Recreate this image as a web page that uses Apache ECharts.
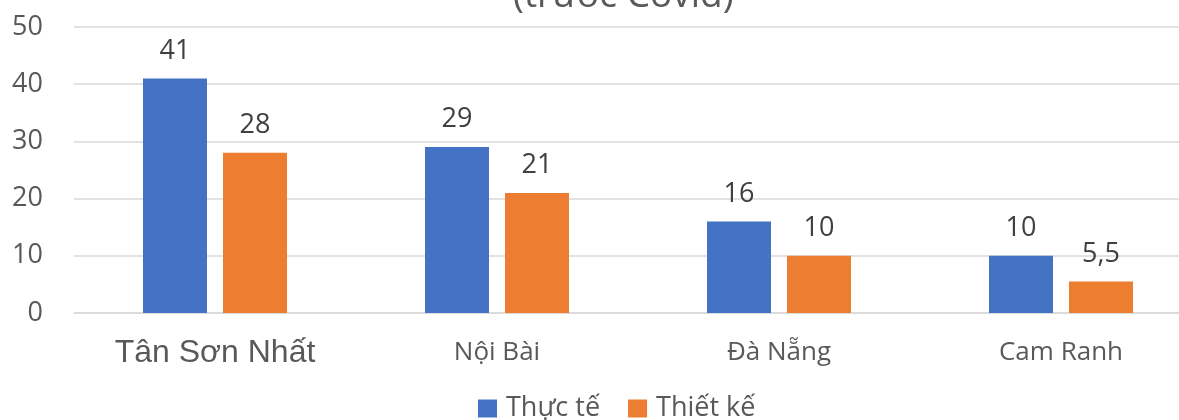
<!DOCTYPE html>
<html>
<head>
<meta charset="utf-8">
<script src="https://cdn.jsdelivr.net/npm/echarts@6/dist/echarts.min.js"></script>
<style>
html,body{margin:0;padding:0;background:#fff;overflow:hidden;}
#c{width:1202px;height:420px;}
</style>
</head>
<body>
<div id="c"></div>
<script>
var categories = ['Tân Sơn Nhất', 'Nội Bài', 'Đà Nẵng', 'Cam Ranh'];
var actual = [41, 29, 16, 10];
var design = [28, 21, 10, 5.5];
var seriesNames = ['Thực tế', 'Thiết kế'];
var titleText = '(trước Covid)';

var chart = echarts.init(document.getElementById('c'));
var fmt = function (p) { return String(p.value).replace('.', ','); };
var labelStyle = {
  show: true, position: 'top', distance: 14,
  fontFamily: 'Open Sans', fontSize: 27, color: '#404040', formatter: fmt
};
chart.setOption({
  animation: false,
  graphic: [{
    type: 'text', left: 513, top: -22,
    style: { text: titleText, fontFamily: 'Open Sans', fontSize: 37, fill: '#595959' }
  }],
  legend: {
    bottom: -7, left: 473, itemWidth: 19, itemHeight: 18, itemGap: 28,
    icon: 'rect',
    textStyle: { fontFamily: 'Open Sans', fontSize: 27, color: '#595959', padding: [0, 0, 0, 4] },
    data: seriesNames
  },
  grid: { left: 74, right: 0, top: 27, height: 286, containLabel: false },
  xAxis: {
    type: 'category', data: categories,
    axisLine: { lineStyle: { color: '#D9D9D9', width: 1.5 } },
    axisTick: { show: false },
    axisLabel: {
      margin: 22, color: '#595959', fontFamily: 'Open Sans', fontSize: 26,
      formatter: function (v, i) { return i === 0 ? '{a|' + v + '}' : '{b|' + v + '}'; },
      rich: {
        a: { fontFamily: 'Liberation Sans', fontSize: 32, color: '#595959', lineHeight: 36 },
        b: { fontFamily: 'Open Sans', fontSize: 26, color: '#595959', lineHeight: 36 }
      }
    }
  },
  yAxis: {
    type: 'value', min: 0, max: 50, interval: 10,
    axisLine: { show: false }, axisTick: { show: false },
    splitLine: { lineStyle: { color: '#D9D9D9', width: 1.5 } },
    axisLabel: { margin: 31, color: '#595959', fontFamily: 'Open Sans', fontSize: 27 }
  },
  series: [
    { name: seriesNames[0], type: 'bar', data: actual, barWidth: 64, barGap: '25%',
      itemStyle: { color: '#4472C4' }, label: labelStyle },
    { name: seriesNames[1], type: 'bar', data: design, barWidth: 64, barGap: '25%',
      itemStyle: { color: '#ED7D31' }, label: labelStyle }
  ]
});
</script>
</body>
</html>
